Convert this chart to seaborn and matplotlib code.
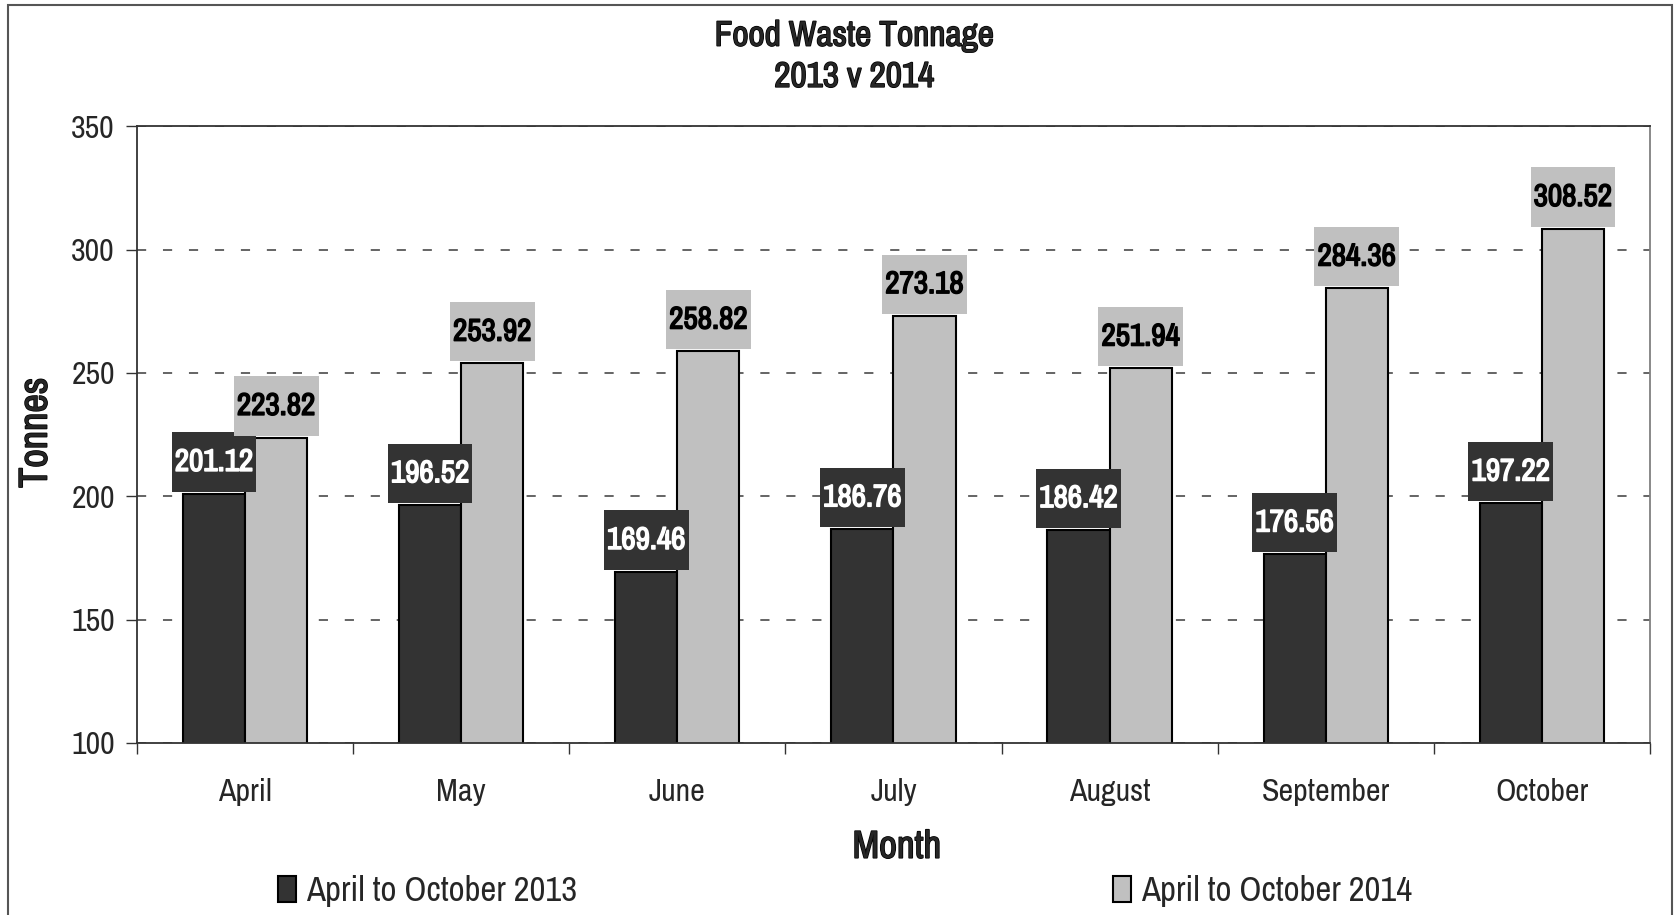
import numpy as np
import pandas as pd
import seaborn as sns
import matplotlib.pyplot as plt
import matplotlib.patheffects as pe
from matplotlib.ticker import FixedLocator
from matplotlib.patches import Patch
from matplotlib.path import Path

months = ['April', 'May', 'June', 'July', 'August', 'September', 'October']
tonnes_2013 = [201.12, 196.52, 169.46, 186.76, 186.42, 176.56, 197.22]
tonnes_2014 = [223.82, 253.92, 258.82, 273.18, 251.94, 284.36, 308.52]
series = ['April to October 2013', 'April to October 2014']
colors = ['#333333', '#c0c0c0']
label_text = ['white', 'black']

df = pd.DataFrame({
    'Month': months * 2,
    'Tonnes': tonnes_2013 + tonnes_2014,
    'Period': [series[0]] * 7 + [series[1]] * 7,
})

sns.set_style('white')
plt.rcParams['font.family'] = ['Archivo Narrow', 'DejaVu Sans']


def bold(color):
    # narrow font has only one weight here, so thicken it with a stroke
    return [pe.withStroke(linewidth=1.1, foreground=color)]


def label_box(x0, y0, width, height, mutation_size):
    # tall box with little side padding, like the excel data labels
    px, py = 0.1 * mutation_size, 0.5 * mutation_size
    x0, y0 = x0 - px, y0 - py
    x1, y1 = x0 + width + 2 * px, y0 + height + 2 * py
    return Path([(x0, y0), (x1, y0), (x1, y1), (x0, y1), (x0, y0)], closed=True)


fig = plt.figure(figsize=(16.75, 9.15), dpi=100)
ax = fig.add_axes([0.0818, 0.188, 0.985 - 0.0818, 0.862 - 0.188])

sns.barplot(data=df, x='Month', y='Tonnes', hue='Period', palette=colors,
            width=0.575, gap=0, edgecolor='black', linewidth=1.5, ax=ax,
            errorbar=None, saturation=1, legend=False)

ax.set_ylim(100, 350)
ax.set_yticks([100, 150, 200, 250, 300, 350])
ax.set_xlim(-0.5, len(months) - 0.5)

# grid
ax.set_axisbelow(True)
ax.yaxis.grid(True, color='#3a3a3a', linewidth=1.1, linestyle=(0, (6, 11)))
ax.xaxis.grid(False)

for s in ax.spines.values():
    s.set_visible(True)
    s.set_color('#333333')
    s.set_linewidth(1.3)
ax.spines['right'].set_color('#808080')

# ticks
ax.tick_params(axis='y', which='major', direction='out', length=8, width=1,
               color='#333333', left=True, pad=8, labelsize=23)
ax.tick_params(axis='x', which='major', length=0, pad=25, labelsize=23)
ax.xaxis.set_minor_locator(FixedLocator(np.arange(-0.5, len(months), 1.0)))
ax.tick_params(axis='x', which='minor', direction='out', length=8, width=1,
               color='#333333', bottom=True)

ax.set_xlabel('')
ax.set_ylabel('')

# value labels
for i, cont in enumerate(ax.containers):
    for bar in cont:
        h = bar.get_height()
        ax.annotate(f'{h:.2f}', (bar.get_x() + bar.get_width() / 2, h),
                    xytext=(0, 12.7), textcoords='offset points',
                    ha='center', va='bottom', fontsize=22.5,
                    color=label_text[i], path_effects=bold(label_text[i]),
                    bbox=dict(boxstyle=label_box, facecolor=colors[i],
                              edgecolor='none'))

# legend, one entry at a time so they sit far apart like the original
for i, x0 in enumerate([0.166, 0.6645]):
    fig.legend([Patch(facecolor=colors[i], edgecolor='black', linewidth=1.5)],
               [series[i]], loc='center left', bbox_to_anchor=(x0, 0.026),
               frameon=False, fontsize=25, handlelength=0.52,
               handleheight=0.8, handletextpad=0.3, borderaxespad=0,
               borderpad=0)

fig.text(0.51, 0.961, 'Food Waste Tonnage', ha='center', va='center',
         fontsize=25.5, path_effects=bold('black'))
fig.text(0.51, 0.916, '2013 v 2014', ha='center', va='center',
         fontsize=25.5, path_effects=bold('black'))
fig.text(0.021, 0.527, 'Tonnes', rotation=90, ha='center', va='center',
         fontsize=29, path_effects=bold('black'))
fig.text(0.5355, 0.074, 'Month', ha='center', va='center',
         fontsize=28, path_effects=bold('black'))

# outer chart border
fig.patches.append(plt.Rectangle((0.0048, -0.05), 0.9935, 1.0445,
                                 transform=fig.transFigure, fill=False,
                                 edgecolor='#555555', linewidth=1.5))

fig.savefig('out.png', dpi=100)
